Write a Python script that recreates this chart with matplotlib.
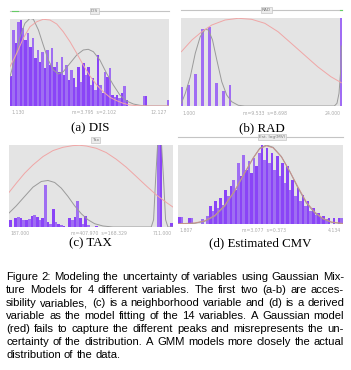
import matplotlib
matplotlib.use("Agg")
import matplotlib.pyplot as plt
import numpy as np

# ---- data ----
# (a) DIS: 66 bins between 1.130 and 12.127
dis_counts = [30, 76, 63, 84, 86, 78, 66, 73, 59, 68, 48, 56, 44, 54, 38, 56, 41, 58, 39, 44,
              34, 49, 31, 41, 26, 36, 28, 19, 39, 24, 43, 31, 39, 21, 28, 16, 51, 21, 13, 34,
              29, 38, 11, 9, 11, 8, 13, 20, 6, 0, 0, 0, 0, 0, 0, 10, 10, 0, 0, 0,
              0, 0, 0, 0, 0, 6]
dis_gmm_x = [0, 2.1, 4.2, 6.2, 8.3, 9.7, 11.8, 13.8, 15.9, 18.0, 20.1, 22.1, 24.9, 27.7, 30.4,
             32.5, 34.6, 37.3, 40.1, 42.9, 45.6, 48.4, 51.2, 53.9, 56.7, 66]
dis_gmm_y = [29.3, 47.7, 69.3, 82.7, 87.7, 86.7, 76, 61, 46, 36, 32, 34.3, 42.7, 51, 56,
             56.7, 54.3, 46, 32.7, 21, 11, 5, 2, 0.7, 0, 0]
dis_gauss_x = [0, 2.8, 5.5, 8.3, 11.1, 13.8, 16.6, 19.4, 22.1, 24.9, 27.7, 30.4, 33.2, 36.0,
               38.7, 41.5, 44.3, 47.0, 49.8, 52.6, 56.7, 66]
dis_gauss_y = [39.3, 52.7, 67.7, 79.3, 84.3, 86.7, 86, 82, 74.3, 64.3, 52.7, 41, 30, 21,
               14.3, 8.7, 5.3, 2.7, 1, 0.3, 0, 0]

# (b) RAD: discrete values
rad_values = [1, 2, 3, 4, 5, 6, 7, 8, 24]
rad_counts = [19, 21, 32, 77, 79, 23, 15, 21, 95]
rad_gmm_x = [1.0, 1.57, 2.29, 3.0, 3.71, 4.43, 4.9, 5.48, 6.1, 6.81, 7.52, 8.24, 9.19, 10.1,
             23.0, 23.38, 23.67, 23.95, 24.0]
rad_gmm_y = [2.7, 12.7, 29.3, 52.7, 69.3, 76.7, 76, 66, 46, 24.3, 11, 4.3, 0.7, 0,
             0, 2.7, 12.7, 39.3, 60]
rad_gauss_x = [1.0, 2.52, 3.95, 5.38, 7.29, 9.19, 11.1, 13.0, 14.9, 16.8, 18.7, 20.6, 22.5, 24.0]
rad_gauss_y = [54.3, 66, 74.3, 81, 86, 87.7, 86.7, 82.7, 74.3, 62.7, 51, 39.3, 29.3, 23.3]

# (c) TAX: 61 bins between 187 and 711
tax_counts = [7, 0, 9, 10, 9, 7, 7, 8, 11, 12, 10, 7, 9, 42, 5, 3, 18, 5, 3, 2,
              1, 0, 9, 7, 10, 26, 9, 3, 11, 2, 0, 0, 1, 0, 0, 0, 0, 0, 0, 0,
              0, 0, 0, 0, 0, 0, 0, 0, 0, 0, 0, 0, 0, 0, 0, 90, 90, 0, 0, 0, 4]
tax_gmm_x = [0, 2.73, 5.82, 8.92, 12.02, 14.5, 16.98, 19.45, 21.93, 24.41, 26.89, 29.37,
             31.85, 34.94, 38.66, 52.91, 53.78, 54.52, 55.27, 56.01, 56.75, 57.5, 58.24,
             59.11, 61]
tax_gmm_y = [14, 21.3, 30.7, 40, 45.7, 46.7, 44.7, 39, 30.7, 21.3, 13.3, 7.3, 3.3, 1, 0,
             0, 7.3, 47.3, 82.3, 94, 82.3, 47.3, 7.3, 0, 0]
tax_gauss_x = [0, 2.73, 5.82, 8.92, 12.64, 16.36, 20.07, 23.79, 26.27, 28.75, 32.47, 36.18,
               39.9, 43.62, 47.34, 51.05, 54.77, 58.49, 61]
tax_gauss_y = [34.7, 44, 54, 62.3, 70.7, 76.7, 80, 81.7, 82, 81.3, 79, 74.7, 68, 60, 50.7,
               41.3, 32.3, 24.7, 20]

# (d) Estimated CMV, log(MV): 64 bins between 1.807 and 4.134
cmv_counts = [7, 7, 0, 0, 6, 6, 0, 0, 0, 5, 0, 8, 18, 13, 23, 16, 26, 19, 34, 28,
              38, 44, 34, 61, 48, 69, 54, 63, 51, 66, 58, 71, 79, 64, 76, 61, 71, 54, 68, 48,
              61, 41, 58, 34, 44, 28, 36, 23, 29, 18, 23, 13, 16, 9, 11, 7, 8, 5, 6, 0,
              6, 0, 6, 6]
cmv_gmm_x = [0, 6.47, 10.35, 14.23, 18.11, 21.99, 25.87, 29.11, 31.69, 34.28, 36.87, 40.1,
             43.34, 46.57, 49.81, 53.04, 56.27, 59.51, 64]
cmv_gmm_y = [0, 0.7, 2.7, 7.7, 17.7, 32.7, 51, 66, 76, 79.3, 77, 67.7, 52.7, 36, 21, 11,
             5, 1.7, 0.3]
cmv_gauss_x = [0, 6.47, 10.35, 14.23, 18.11, 21.99, 25.87, 29.11, 31.69, 34.28, 36.87, 40.1,
               43.34, 46.57, 49.81, 53.04, 56.27, 59.51, 64]
cmv_gauss_y = [0.2, 1, 3.2, 8.5, 18.7, 33.5, 51.5, 66, 75.5, 78.5, 76.5, 67.5, 53, 37, 22,
               12, 5.5, 2, 0.5]

# labels
panel_titles = ["DIS", "RAD", "Tax", "Est. log(MV)"]
left_labels = ["1.130", "1.000", "187.000", "1.807"]
mid_labels = ["m=3.795  s=2.102", "m=9.533  s=8.698", "m=407.970  s=168.329", "m=3.077  s=0.373"]
right_labels = ["12.127", "24.000", "711.000", "4.134"]
sub_captions = ["(a) DIS", "(b) RAD", "(c) TAX", "(d) Estimated CMV"]
caption_lines = [
    "Figure 2: Modeling the uncertainty of variables using Gaussian Mix-",
    "ture Models for 4 different variables.  The first two (a-b) are acces-",
    "sibility variables, (c) is a neighborhood variable and (d) is a derived",
    "variable as the model fitting of the 14 variables.  A Gaussian model",
    "(red) fails to capture the different peaks and misrepresents the un-",
    "certainty of the distribution.  A GMM models more closely the actual",
    "distribution of the data.",
]

W, H = 351, 370
DARK = "#8a44f7"
LIGHT = "#9f6ef2"
BG = "#e4e4e4"
GMM_C = "#9a9a9a"
GAUSS_C = "#f0a6a6"

fig = plt.figure(figsize=(W / 100, H / 100), dpi=100)


def px_axes(x0, y0, x1, y1):
    return fig.add_axes([x0 / W, 1 - y1 / H, (x1 - x0) / W, (y1 - y0) / H])


ax_a = px_axes(10, 19, 169, 106)
ax_b = px_axes(181, 18, 342, 106)
ax_c = px_axes(9, 145, 173, 227)
ax_d = px_axes(178, 145, 343, 224)
axes = [ax_a, ax_b, ax_c, ax_d]

for ax in axes:
    ax.set_facecolor(BG)
    for s in ax.spines.values():
        s.set_visible(False)
    ax.set_xticks([])
    ax.set_yticks([])


def shades(n):
    return [DARK if i % 2 == 0 else LIGHT for i in range(n)]


# (a)
ax_a.bar(np.arange(len(dis_counts)), dis_counts, width=1.0, align="edge",
         color=shades(len(dis_counts)), linewidth=0)
ax_a.plot(dis_gmm_x, dis_gmm_y, color=GMM_C, lw=0.7)
ax_a.plot(dis_gauss_x, dis_gauss_y, color=GAUSS_C, lw=0.7)
ax_a.set_xlim(0, len(dis_counts))
ax_a.set_ylim(0, 87)

# (b)
ax_b.bar(rad_values, rad_counts, width=0.42, color="#a06cf4", linewidth=0)
ax_b.plot(rad_gmm_x, rad_gmm_y, color=GMM_C, lw=0.7)
ax_b.plot(rad_gauss_x, rad_gauss_y, color=GAUSS_C, lw=0.7)
ax_b.set_xlim(0.95, 24.1)
ax_b.set_ylim(0, 88)

# (c)
ax_c.bar(np.arange(len(tax_counts)), tax_counts, width=1.0, align="edge",
         color=shades(len(tax_counts)), linewidth=0)
ax_c.plot(tax_gmm_x, tax_gmm_y, color=GMM_C, lw=0.7)
ax_c.plot(tax_gauss_x, tax_gauss_y, color=GAUSS_C, lw=0.7)
ax_c.set_xlim(0, len(tax_counts))
ax_c.set_ylim(0, 82.3)

# (d)
ax_d.bar(np.arange(len(cmv_counts)), cmv_counts, width=1.0, align="edge",
         color=shades(len(cmv_counts)), linewidth=0)
ax_d.plot(cmv_gmm_x, cmv_gmm_y, color=GMM_C, lw=0.7)
ax_d.plot(cmv_gauss_x, cmv_gauss_y, color="#c8928c", lw=0.7)
ax_d.set_xlim(0, len(cmv_counts))
ax_d.set_ylim(0, 79.3)

# header strips, tiny axis labels
header_y = [1.092, 1.09, None, 1.10]
title_y = [1.092, 1.09, 1.06, 1.10]
title_x = [0.53, 0.53, 0.53, 0.57]
mid_x = [0.53, 0.52, 0.55, 0.52]
for i, ax in enumerate(axes):
    if header_y[i] is not None:
        ax.plot([0, 1], [header_y[i], header_y[i]], transform=ax.transAxes,
                color="#c4c4c4", lw=0.8, clip_on=False)
    ax.text(title_x[i], title_y[i], panel_titles[i], transform=ax.transAxes,
            ha="center", va="center", fontsize=3.2, color="#777777",
            bbox=dict(boxstyle="square,pad=0.2", fc="#ececec", ec="#bbbbbb", lw=0.4))
    ax.text(0.01, -0.08, left_labels[i], transform=ax.transAxes, ha="left", va="center",
            fontsize=3.3, color="#aaaaaa")
    ax.text(mid_x[i], -0.08, mid_labels[i], transform=ax.transAxes, ha="center",
            va="center", fontsize=3.3, color="#aaaaaa")
    ax.text(0.99, -0.08, right_labels[i], transform=ax.transAxes, ha="right",
            va="center", fontsize=3.3, color="#aaaaaa")

# small green marks on the header strips
ax_a.plot([0.01, 0.05], [1.092, 1.092], transform=ax_a.transAxes, color="#66cc66",
          lw=0.8, clip_on=False)
ax_b.plot([0.985, 1.0], [1.09, 1.09], transform=ax_b.transAxes, color="#66cc66",
          lw=0.8, clip_on=False)

# sub captions
sub_pos = [(90, 128), (262, 128), (90, 243), (260, 243)]
for (x, y), s in zip(sub_pos, sub_captions):
    fig.text(x / W, 1 - y / H, s, ha="center", va="center",
             family="Liberation Serif", fontsize=9.3)

# justified caption
renderer = fig.canvas.get_renderer()
cap_kw = dict(family="Liberation Sans", fontsize=8.1, color="black")
x_left, x_right = 6, 344
for k, line in enumerate(caption_lines):
    y = 1 - (277 + 13.05 * k) / H
    words = line.split()
    widths = []
    for w in words:
        t = fig.text(0, 0, w, **cap_kw)
        widths.append(t.get_window_extent(renderer).width)
        t.remove()
    if k == len(caption_lines) - 1:
        t1 = fig.text(0, 0, "a a", **cap_kw)
        t2 = fig.text(0, 0, "aa", **cap_kw)
        sp = t1.get_window_extent(renderer).width - t2.get_window_extent(renderer).width
        t1.remove()
        t2.remove()
    else:
        sp = (x_right - x_left - sum(widths)) / (len(words) - 1)
    x = x_left
    for w, wd in zip(words, widths):
        fig.text(x / W, y, w, ha="left", va="center", **cap_kw)
        x += wd + sp

fig.savefig("out.png", dpi=100)
